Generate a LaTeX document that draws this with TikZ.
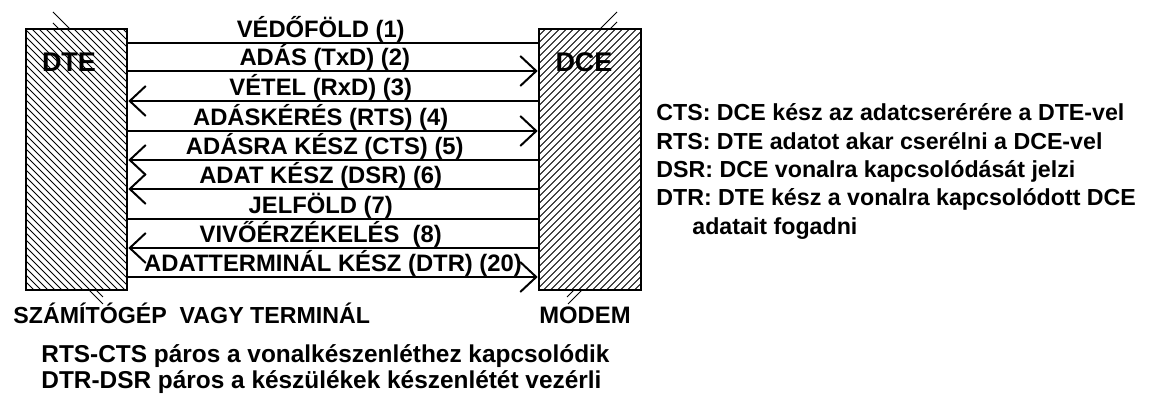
\documentclass[tikz,border=0pt]{standalone}
\usepackage{fontspec}
\setmainfont{Liberation Sans}
\usepackage{tikz}
\usetikzlibrary{arrows.meta, positioning}

\tikzset{
  box/.style={draw, line width=1.3pt, minimum height=130.5pt, inner sep=0pt},
  hatch/.style={line width=0.5pt},
  sig/.style={line width=1pt},
  todce/.style={arrows={-Straight Barb[length=8pt,width=15pt]}},
  todte/.style={arrows={Straight Barb[length=8pt,width=15pt]-}},
  nodir/.style={},
  lbl/.style={font=\bfseries\fontsize{11.9}{13}\selectfont, inner sep=0pt, anchor=base},
  note/.style={lbl, font=\bfseries\fontsize{11.6}{13}\selectfont, anchor=base west},
  pairnote/.style={note, font=\bfseries\fontsize{12.2}{13}\selectfont},
  devname/.style={font=\bfseries\fontsize{13.5}{15}\selectfont, inner sep=0pt}
}

\begin{document}
\begin{tikzpicture}[x=0.5pt, y=-0.5pt]
  \useasboundingbox (0,0) rectangle (1163,399);
  \node[box, minimum width=50.5pt, path picture={
      \foreach \i in {-360,-353,...,60} \draw[hatch] (\i,-131) -- ++(262,262);}]
    (dte) at (76.5,159.5) {};
  \node[box, minimum width=51pt, path picture={
      \foreach \i in {-320,-313,...,60} \draw[hatch] (\i,131) -- ++(262,-262);}]
    (dce) at (590,159.5) {};
  \draw[hatch] (53,12) -- (70,29) (53,23) -- (59,29) (89,290) -- (103,304) (96,290) -- (103,297);
  \draw[hatch] (617,12) -- (600,29) (617,22) -- (610,29) (582,290) -- (568,304) (574,290) -- (567,297);
  \node[devname] (dtename) at (69,62) {DTE};
  \node[devname] (dcename) at (584,62) {DCE};

  \foreach \y/\p/\dir/\txt in {
      43/.47/nodir/{VÉDŐFÖLD (1)},
      71/.48/todce/{ADÁS (TxD) (2)},
      101/.47/todte/{VÉTEL (RxD) (3)},
      131/.47/todce/{ADÁSKÉRÉS (RTS) (4)},
      160/.48/todte/{ADÁSRA KÉSZ (CTS) (5)},
      189/.47/todte/{ADAT KÉSZ (DSR) (6)},
      219/.47/nodir/{JELFÖLD (7)},
      248/.47/todte/{VIVŐÉRZÉKELÉS\ \ (8)},
      277/.5/todce/{ADATTERMINÁL KÉSZ (DTR) (20)}}
    \draw[sig, \dir] (dte.east |- 0,\y) -- (dce.west |- 0,\y)
      node[lbl, pos=\p, yshift=2.75pt] {\txt};

  \node[note] (ncts) at (656,121) {CTS: DCE kész az adatcserérére a DTE-vel};
  \node[note] (nrts) at (656,150) {RTS: DTE adatot akar cserélni a DCE-vel};
  \node[note] (ndsr) at (656,178) {DSR: DCE vonalra kapcsolódását jelzi};
  \node[note] (ndtr) at (656,206) {DTR: DTE kész a vonalra kapcsolódott DCE};
  \node[note] (ndtr2) at (692,235) {adatait fogadni};

  \node[note] (szt) at (13,324) {SZÁMÍTÓGÉP\ \ VAGY TERMINÁL};
  \node[lbl] (modem) at (585,324) {MODEM};
  \node[pairnote] (pair1) at (41,363) {RTS-CTS páros a vonalkészenléthez kapcsolódik};
  \node[pairnote] (pair2) at (41,389) {DTR-DSR páros a készülékek készenlétét vezérli};
\end{tikzpicture}
\end{document}
